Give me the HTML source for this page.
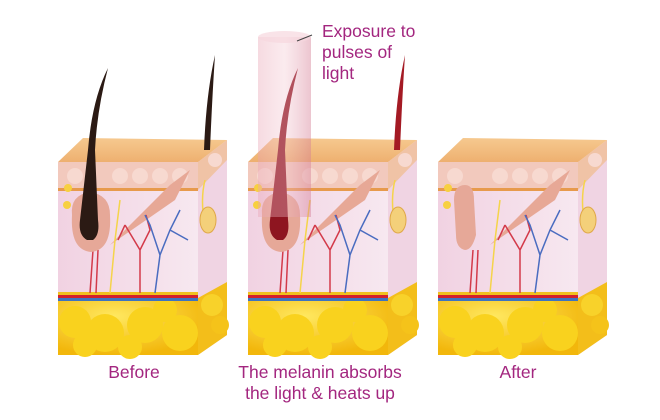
<!DOCTYPE html>
<html><head><meta charset="utf-8"><style>
html,body{margin:0;padding:0;background:#fff;width:660px;height:420px;overflow:hidden}
svg{display:block}
text{font-family:"Liberation Sans",sans-serif;fill:#a3267f;font-size:17.5px}
</style></head><body>
<svg width="660" height="420" viewBox="0 0 660 420">
<defs>
<linearGradient id="top" x1="0" y1="0" x2="0" y2="1"><stop offset="0" stop-color="#f6c98f"/><stop offset="1" stop-color="#eeb070"/></linearGradient>
<linearGradient id="derm" x1="0" y1="0" x2="1" y2="0"><stop offset="0" stop-color="#f1d2e2"/><stop offset="1" stop-color="#f7e8f0"/></linearGradient>
<radialGradient id="fat" cx="0.4" cy="0.3" r="0.7"><stop offset="0" stop-color="#ffe860"/><stop offset="1" stop-color="#f2b70c"/></radialGradient>
<linearGradient id="beam" x1="0" y1="0" x2="1" y2="0"><stop offset="0" stop-color="#e9a3b3" stop-opacity=".4"/><stop offset=".5" stop-color="#f3c6d0" stop-opacity=".35"/><stop offset="1" stop-color="#d57e95" stop-opacity=".45"/></linearGradient>
<g id="block">
  <polygon points="198,162 227,140 227,335 198,355" fill="#f0d4e3"/>
  <polygon points="198,162 227,140 227,160 198,190" fill="#f0c3a6"/>
  <polygon points="198,298 227,282 227,335 198,355" fill="#f3be1a"/>
  <circle cx="212" cy="305" r="11" fill="#f8d22a"/><circle cx="220" cy="325" r="9" fill="#f5c31a"/>
  <rect x="58" y="162" width="140" height="28" fill="#f2c9bd"/>
  <rect x="58" y="188" width="140" height="3" fill="#e79a4c"/>
  <rect x="58" y="191" width="140" height="103" fill="url(#derm)"/>
  <rect x="58" y="300" width="140" height="55" fill="url(#fat)"/>
  <g fill="#f9d21e">
   <circle cx="75" cy="322" r="16"/><circle cx="105" cy="333" r="19"/><circle cx="145" cy="325" r="18"/><circle cx="180" cy="333" r="18"/><circle cx="85" cy="345" r="12"/><circle cx="130" cy="347" r="12"/><circle cx="165" cy="310" r="12"/>
  </g>
  <rect x="58" y="292" width="140" height="4" fill="#f0c020"/>
  <rect x="58" y="295" width="140" height="3" fill="#d41f2a"/>
  <rect x="58" y="298" width="140" height="3" fill="#3d74c0"/>
  <g fill="#f7d9d0"><circle cx="75" cy="176" r="8"/><circle cx="120" cy="176" r="8"/><circle cx="140" cy="176" r="8"/><circle cx="160" cy="176" r="8"/><circle cx="180" cy="176" r="8"/><circle cx="215" cy="160" r="7"/></g>
  <polygon points="58,162 198,162 227,140 83,138" fill="url(#top)"/>
  <polygon points="110,245 170,185 190,170 175,200" fill="#e7a896"/>
  <g fill="none" stroke-width="1.5">
   <path d="M140,293 L140,250 L125,225 M140,250 L150,230 L146,215 M125,225 L118,240" stroke="#d33a4a"/>
   <path d="M155,293 L160,255 L170,230 L180,210 M160,255 L150,225 L145,215 M170,230 L188,240" stroke="#4a6cc0"/>
   <path d="M90,293 L93,250 M96,293 L98,250" stroke="#d33a4a"/>
   <path d="M110,293 L115,240 L120,200" stroke="#f5d44a"/>
   <path d="M205,180 Q200,200 205,225" stroke="#f5d44a"/>
  </g>
  <ellipse cx="208" cy="220" rx="8" ry="13" fill="#f4d07a" stroke="#e0a84a"/>
  <circle cx="67" cy="205" r="4" fill="#f7d040"/><circle cx="68" cy="188" r="4" fill="#f7d040"/>
</g>
</defs>

<use href="#block"/>
<path d="M72,215 Q70,195 90,192 Q110,195 110,215 Q112,250 91,252 Q70,250 72,215Z" fill="#e6a898"/>
<path d="M87,240 Q78,235 80,220 L88,150 Q92,100 108,68 Q97,110 95,150 L98,220 Q100,235 93,240Z" fill="#2b1a14"/>
<path d="M204,150 Q206,95 215,55 Q212,100 210,150Z" fill="#2b1a14"/>

<g transform="translate(190,0)"><use href="#block"/>
<path d="M72,215 Q70,195 90,192 Q110,195 110,215 Q112,250 91,252 Q70,250 72,215Z" fill="#e6a898"/>
<path d="M87,240 Q78,235 80,220 L88,150 Q92,100 108,68 Q97,110 95,150 L98,220 Q100,235 93,240Z" fill="#8e1520"/>
<path d="M204,150 Q206,95 215,55 Q212,100 210,150Z" fill="#a41a24"/>
</g>
<rect x="258" y="37" width="53" height="180" fill="url(#beam)"/>
<ellipse cx="284.5" cy="37" rx="26.5" ry="6" fill="#f7d7de" opacity=".7"/>
<line x1="297" y1="41" x2="312" y2="35" stroke="#444" stroke-width="1"/>

<g transform="translate(380,0)"><use href="#block"/>
<path d="M74,200 Q74,185 85,185 Q94,185 94,200 L96,235 Q92,250 85,250 Q76,248 76,235Z" fill="#e6a898"/>
</g>

<text x="322" y="37">Exposure to</text>
<text x="322" y="58">pulses of</text>
<text x="322" y="79">light</text>
<text x="134" y="378" text-anchor="middle">Before</text>
<text x="320" y="378" text-anchor="middle">The melanin absorbs</text>
<text x="320" y="399" text-anchor="middle">the light &amp; heats up</text>
<text x="518" y="378" text-anchor="middle">After</text>
</svg>
</body></html>
